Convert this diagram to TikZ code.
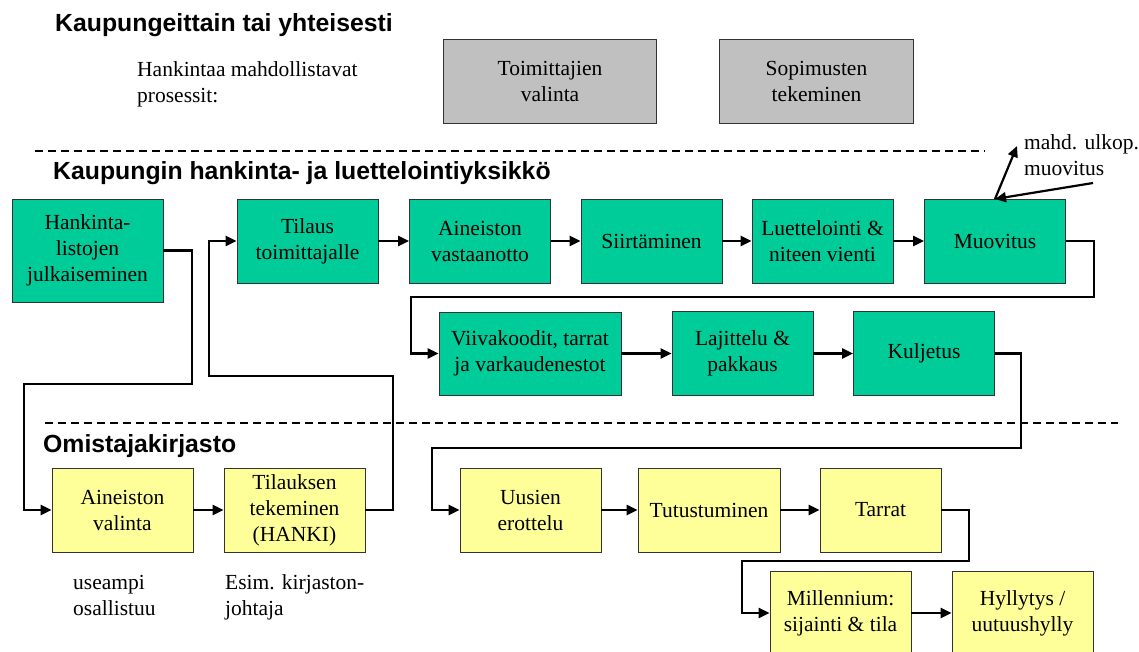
\documentclass[tikz,border=0pt]{standalone}
\usepackage{fontspec}
\setmainfont{Liberation Serif}
\newfontfamily\headfont{Liberation Sans}
\usetikzlibrary{arrows.meta}

\definecolor{procgreen}{HTML}{00CC99}
\definecolor{procyellow}{HTML}{FFFF99}
\definecolor{procgray}{HTML}{C0C0C0}
\newcommand\procfont{\fontsize{21.5}{26}\selectfont}
\newcommand\titlefont{\headfont\bfseries\fontsize{24.8}{28}\selectfont}

\begin{document}
\begin{tikzpicture}[x=1pt,y=-1pt,
  proc/.style={draw=black!80, line width=0.9pt, inner sep=0pt, align=center,
    font=\procfont, minimum width=141pt, minimum height=84pt},
  gproc/.style={proc, fill=procgreen},
  yproc/.style={proc, fill=procyellow},
  sproc/.style={proc, fill=procgray},
  conn/.style={line width=2.6pt, line join=miter, -{Triangle[length=11pt,width=10pt]}},
  sepline/.style={line width=2.8pt, dash pattern=on 8pt off 5pt},
  title/.style={anchor=base west, inner sep=0pt, font=\titlefont},
  note/.style={anchor=base west, inner sep=0pt, align=left, font=\procfont}
]
\useasboundingbox (0,0) rectangle (1139,652);

% section headings and separators
\node[title] (t1) at (55,32) {Kaupungeittain tai yhteisesti};
\node[title] (t2) at (53,180) {Kaupungin hankinta- ja luettelointiyksikkö};
\node[title] (t3) at (43,452) {Omistajakirjasto};
\draw[sepline] (35,151) -- (985,151);
\draw[sepline] (45,423) -- (1118,423);

% enabling processes (two-line notes are placed by the baseline of their last line)
\node[note] (enab) at (137,103) {Hankintaa mahdollistavat\\prosessit:};
\node[sproc, minimum width=213pt] (toim) at (550,81) {Toimittajien\\valinta};
\node[sproc, minimum width=194pt] (sopim) at (816.5,81) {Sopimusten\\tekeminen};

% acquisition and cataloguing unit
\node[gproc, minimum width=151pt, minimum height=103pt] (hank) at (87.5,250.5) {Hankinta-\\listojen\\julkaiseminen};
\node[gproc] (tilaus) at (307.5,241) {Tilaus\\toimittajalle};
\node[gproc] (vast) at (480,241) {Aineiston\\vastaanotto};
\node[gproc] (siirt) at (651.5,241) {Siirtäminen};
\node[gproc] (luett) at (822.5,241) {Luettelointi \&\\niteen vienti};
\node[gproc] (muov) at (995,241) {Muovitus};

\node[gproc, minimum width=182pt, minimum height=83pt] (viiva) at (530,353.5) {Viivakoodit, tarrat\\ja varkaudenestot};
\node[gproc] (lajit) at (742.5,353.5) {Lajittelu \&\\pakkaus};
\node[gproc] (kulj) at (924,353.5) {Kuljetus};

% owning library
\node[yproc] (valinta) at (122.5,510) {Aineiston\\valinta};
\node[yproc] (tilauksen) at (294.5,510) {Tilauksen\\tekeminen\\(HANKI)};
\node[yproc] (uusien) at (530.5,510) {Uusien\\erottelu};
\node[yproc, minimum width=142pt] (tutust) at (709,510) {Tutustuminen};
\node[yproc, minimum width=121pt] (tarrat) at (880.5,510) {Tarrat};
\node[yproc] (mill) at (840.5,613) {Millennium:\\sijainti \& tila};
\node[yproc] (hyll) at (1022.5,613) {Hyllytys /\\uutuushylly};

\node[note] (useampi) at (73,615) {useampi\\osallistuu};
\node[note] (esim) at (225,615) {Esim. kirjaston-\\johtaja};
\node[note] (ulkop) at (1024,176) {mahd. ulkop.\\muovitus};

% flow
\draw[conn] (hank.east) -| (192,384) -- (24,384) |- (valinta.west);
\draw[conn] (valinta) -- (tilauksen);
\draw[conn] (tilauksen.east) -| (393,376) -- (209,376) |- (tilaus.west);
\draw[conn] (tilaus) -- (vast);
\draw[conn] (vast) -- (siirt);
\draw[conn] (siirt) -- (luett);
\draw[conn] (luett) -- (muov);
\draw[conn] (muov.east) -| (1094,297) -- (411,297) |- (viiva.west);
\draw[conn] (viiva) -- (lajit);
\draw[conn] (lajit) -- (kulj);
\draw[conn] (kulj.east) -| (1021,448) -- (432,448) |- (uusien.west);
\draw[conn] (uusien) -- (tutust);
\draw[conn] (tutust) -- (tarrat);
\draw[conn] (tarrat.east) -| (969,561) -- (742,561) |- (mill.west);
\draw[conn] (mill) -- (hyll);

% optional outsourced lamination
\coordinate (outtip) at (1017,146);
\coordinate (outtail) at (1093,183);
\coordinate (muovtop) at (995,199);
\draw[conn, line width=2.2pt] (muovtop) -- (outtip);
\draw[conn, line width=2.2pt] (outtail) -- (muovtop);
\end{tikzpicture}
\end{document}
